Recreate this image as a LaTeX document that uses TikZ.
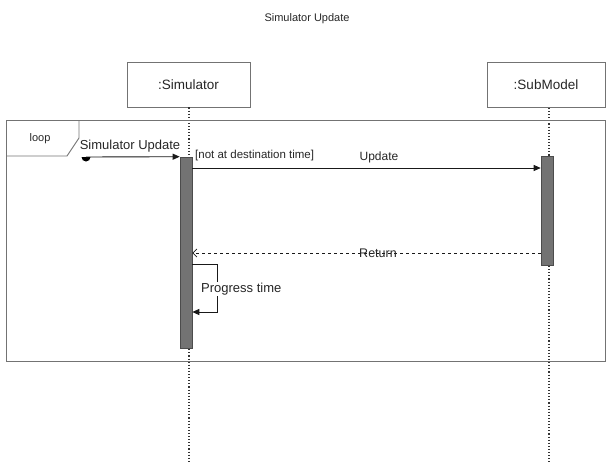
\documentclass[tikz,border=0pt]{standalone}
\usepackage{fontspec}
\setmainfont{Liberation Sans}
\usetikzlibrary{arrows.meta}
\begin{document}
\begin{tikzpicture}[x=1pt,y=-1pt,
  lifebox/.style={draw=black!55, line width=0.8pt, minimum height=45pt, inner sep=0pt, font=\fontsize{13.5}{16}\selectfont, text=black!85},
  lifeline/.style={draw=black!80, dotted, line width=1.1pt},
  actbar/.style={draw=black!70, fill=black!55, line width=0.6pt, minimum width=12pt, inner sep=0pt},
  msg/.style={draw=black!90, line width=0.9pt, -{Triangle[length=7pt,width=6pt]}},
  ret/.style={draw=black!90, dashed, line width=0.8pt, -{Straight Barb[length=4pt,width=8pt]}},
  lbl/.style={font=\fontsize{13}{15}\selectfont, text=black!85, inner sep=1pt},
  frame/.style={draw=black!55, line width=0.9pt},
]
\useasboundingbox (0,0) rectangle (607,463);
% title
\node[font=\fontsize{11}{13}\selectfont, text=black!85] (title) at (307,19) {Simulator Update};
% lifeline heads
\node[lifebox, minimum width=123pt] (sim) at (188.5,84.5) {:Simulator};
\node[lifebox, minimum width=118pt] (sub) at (546,85) {:SubModel};
% lifelines
\coordinate (simend) at (189,463);
\coordinate (subend) at (549,463);
\draw[lifeline] (sim.south -| simend) -- (simend);
\draw[lifeline] (sub.south -| subend) -- (subend);
% loop frame
\draw[frame] (6,120) rectangle (605,361);
\draw[frame] (6,156) -- (67,156) -- (79,138) -- (79,120);
\node[lbl, font=\fontsize{11}{13}\selectfont] (looptag) at (40,139) {loop};
% activation bars
\node[actbar, minimum height=191pt] (simbar) at (186,252.5) {};
\node[actbar, minimum height=109pt] (subbar) at (547,210.5) {};
% found message
\coordinate (found) at (86,157);
\fill[black] ([xshift=-4.5pt]found) arc (180:0:4.5) -- cycle;
\draw[msg] (found) -- (simbar.north west);
\node[lbl] (foundlbl) at (130,146) {Simulator Update};
% guard
\node[lbl, font=\fontsize{11.5}{13}\selectfont, anchor=west] (guard) at (194,156) {[not at destination time]};
% update
\coordinate (uy) at (0,168);
\draw[msg] (simbar.east |- uy) -- (subbar.west |- uy);
\node[lbl, font=\fontsize{12}{14}\selectfont] (updlbl) at (379,157) {Update};
% return
\coordinate (ry) at (0,253);
\draw[ret] (subbar.west |- ry) -- (simbar.east |- ry);
\node[lbl, font=\fontsize{12.5}{14}\selectfont] (retlbl) at (378,253) {Return};
% self message
\coordinate (sa) at (0,264);
\coordinate (sb) at (0,312);
\coordinate (sx) at (217,0);
\draw[msg] (simbar.east |- sa) -- (sx |- sa) -- (sx |- sb) -- (simbar.east |- sb);
\node[lbl, fill=white, anchor=west] (proglbl) at (200,289) {Progress time};
\end{tikzpicture}
\end{document}
